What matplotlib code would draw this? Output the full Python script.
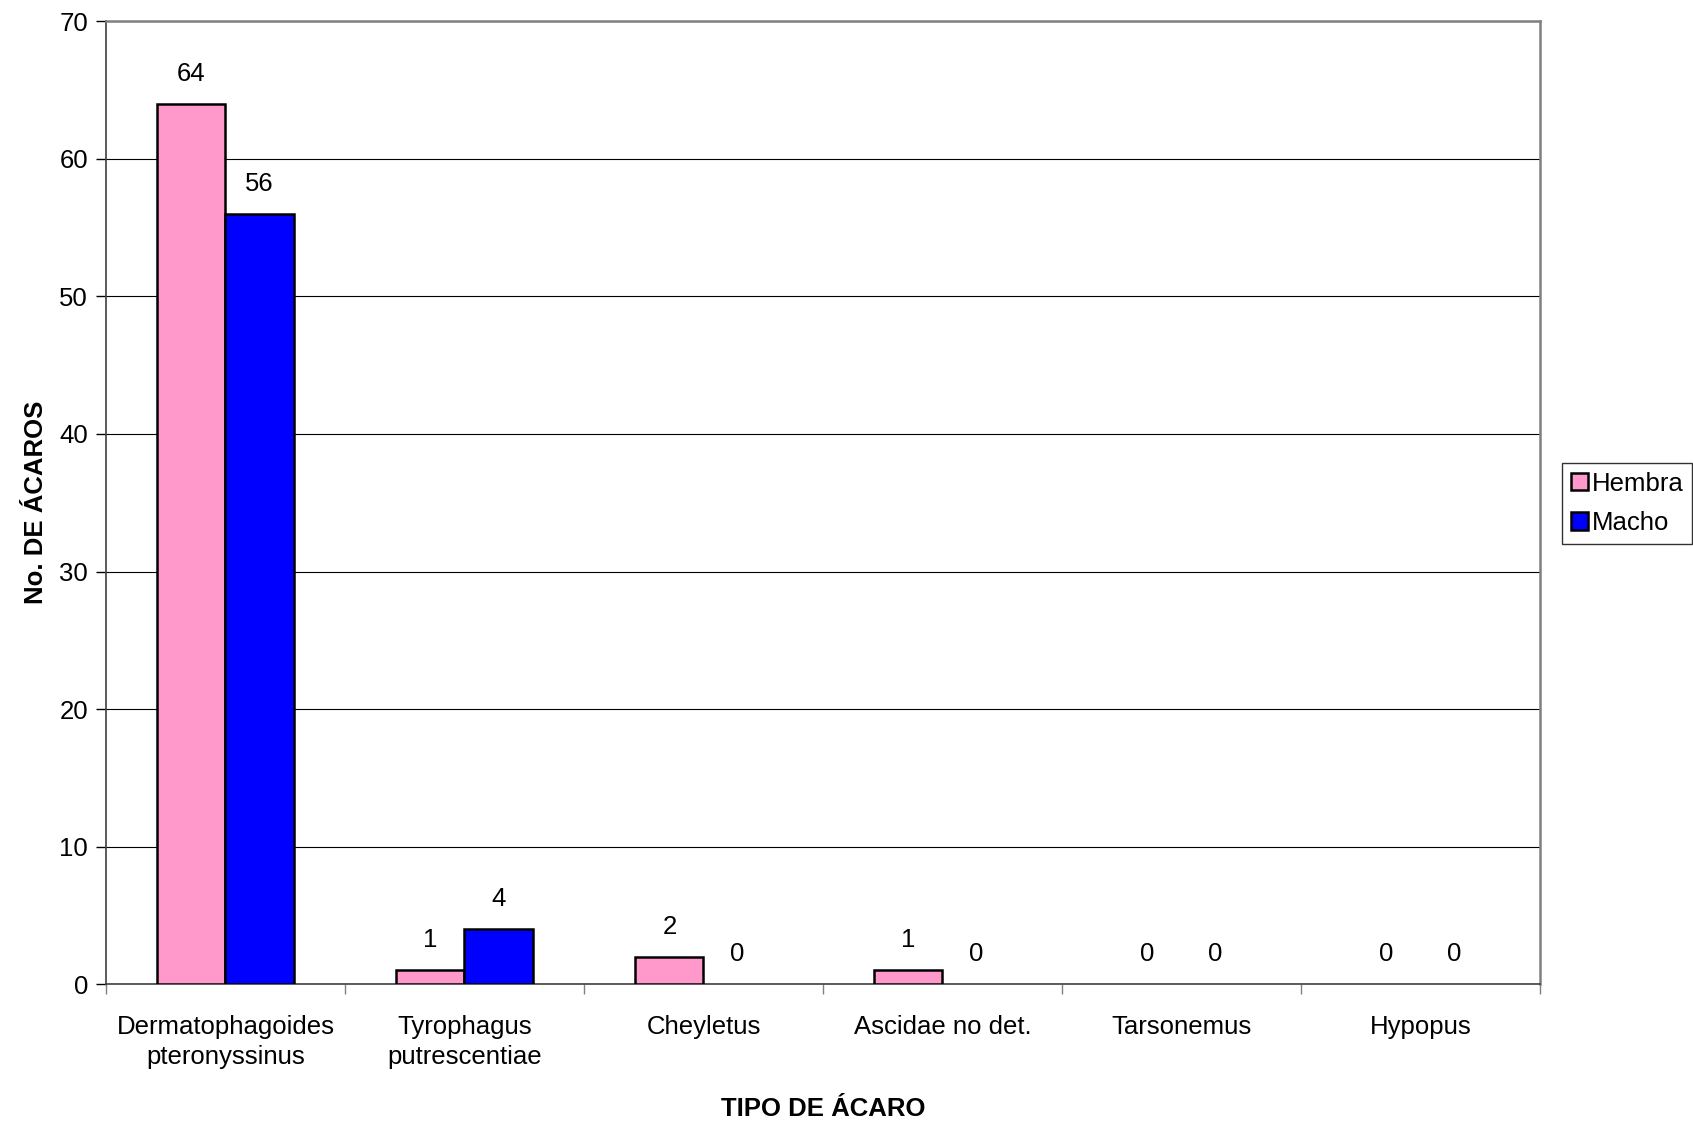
import matplotlib.pyplot as plt
import numpy as np

plt.rcParams["font.family"] = ["Liberation Sans", "DejaVu Sans"]

CATEGORIES = ["Dermatophagoides\npteronyssinus", "Tyrophagus\nputrescentiae", "Cheyletus",
              "Ascidae no det.", "Tarsonemus", "Hypopus"]
HEMBRA = [64, 1, 2, 1, 0, 0]
MACHO = [56, 4, 0, 0, 0, 0]

PINK = "#ff99cc"
BLUE = "#0000ff"
FS = 18.5


def main():
    fig = plt.figure(figsize=(16.93, 11.26), dpi=100, facecolor="white")
    ax = fig.add_axes([0.0626, 0.126, 0.847, 0.855])
    x = np.arange(len(CATEGORIES))
    w = 0.285
    lw_h = [1.8 if v > 0 else 0 for v in HEMBRA]
    lw_m = [1.8 if v > 0 else 0 for v in MACHO]
    b1 = ax.bar(x - w / 2, HEMBRA, w, color=PINK, edgecolor="black", linewidth=lw_h,
                label="Hembra", zorder=3)
    b2 = ax.bar(x + w / 2, MACHO, w, color=BLUE, edgecolor="black", linewidth=lw_m,
                label="Macho", zorder=3)
    for bars in (b1, b2):
        ax.bar_label(bars, padding=13, fontsize=FS)

    ax.set_xlim(-0.5, len(CATEGORIES) - 0.5)
    ax.set_ylim(0, 70)
    ax.set_yticks(np.arange(0, 71, 10))
    ax.yaxis.grid(True, color="black", linewidth=0.8, zorder=0)
    ax.set_xticks(x)
    ax.set_xticklabels(CATEGORIES, fontsize=FS, linespacing=1.35)
    ax.set_xticks(np.arange(-0.5, len(CATEGORIES)), minor=True)
    ax.tick_params(axis="x", which="major", length=0, pad=22)
    ax.tick_params(axis="x", which="minor", length=7, width=1, color="#808080")
    ax.tick_params(axis="y", labelsize=FS, length=7, width=1, pad=6)

    for side in ("top", "right"):
        ax.spines[side].set_color("#808080")
        ax.spines[side].set_linewidth(1.8)
    ax.spines["left"].set_color("#404040")
    ax.spines["bottom"].set_color("#404040")
    ax.spines["left"].set_linewidth(1.2)
    ax.spines["bottom"].set_linewidth(1.2)

    ax.set_xlabel("TIPO DE ÁCARO", fontsize=FS, fontweight="bold", labelpad=20)
    ax.set_ylabel("No. DE ÁCAROS", fontsize=FS, fontweight="bold", labelpad=8)

    leg = fig.legend(loc="center", bbox_to_anchor=(0.961, 0.553), fontsize=FS,
                     frameon=True, fancybox=False, edgecolor="black",
                     handlelength=0.65, handleheight=0.65, handletextpad=0.15,
                     borderpad=0.35, labelspacing=0.6, borderaxespad=0)
    leg.get_frame().set_linewidth(1.0)

    fig.savefig("out.png", dpi=100, facecolor="white")
    plt.close(fig)


if __name__ == "__main__":
    main()
